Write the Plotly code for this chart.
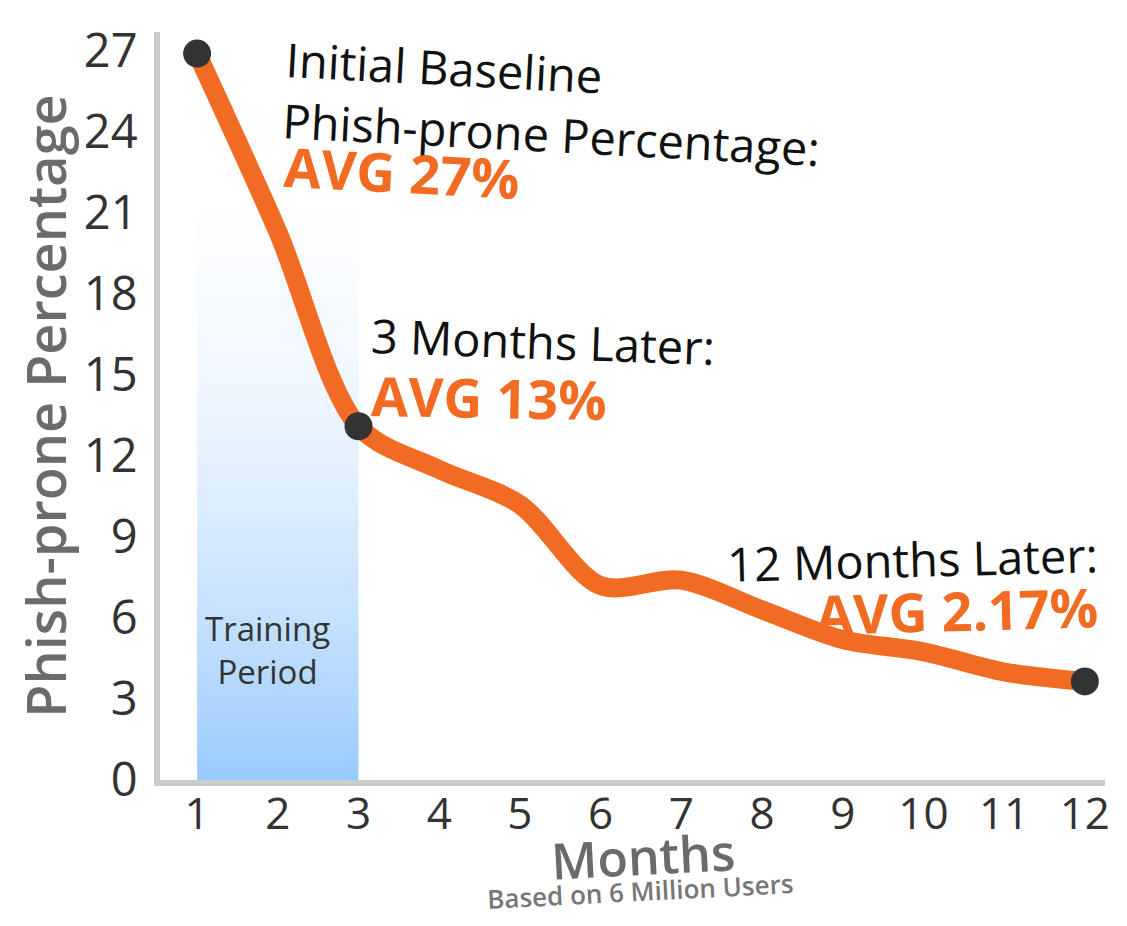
import plotly.graph_objects as go

# ---- data ----
months = [1, 2, 3, 4, 5, 6, 7, 8, 9, 10, 11, 12]
phish_pct = [26.9, 20.3, 13.1, 11.5, 10.2, 7.2, 7.4, 6.3, 5.2, 4.75, 4.0, 3.65]
milestone_months = [1, 3, 12]
y_ticks = [0, 3, 6, 9, 12, 15, 18, 21, 24, 27]
x_ticks = months
training_start, training_end = 1, 3
training_top = 21

ORANGE = "#F26B22"
DARK = "#333333"
GRAY = "#cccccc"
FONT = "Open Sans"

fig = go.Figure()

# training period shaded band (vertical gradient)
fig.add_trace(go.Scatter(
    x=[training_start, training_end, training_end, training_start, training_start],
    y=[0, 0, training_top, training_top, 0],
    mode="lines", line=dict(width=0), fill="toself",
    fillgradient=dict(type="vertical",
                      colorscale=[[0, "#94c8fd"], [1, "rgba(240,247,255,0.15)"]],
                      start=0, stop=training_top),
    hoverinfo="skip", showlegend=False,
))

# main curve
fig.add_trace(go.Scatter(
    x=months, y=phish_pct, mode="lines",
    line=dict(color=ORANGE, width=19, shape="spline", smoothing=0.9),
    showlegend=False,
))

# milestone dots
mi = [months.index(m) for m in milestone_months]
fig.add_trace(go.Scatter(
    x=[months[i] for i in mi], y=[phish_pct[i] for i in mi], mode="markers",
    marker=dict(color=DARK, size=28), showlegend=False,
))

black = dict(family=FONT, size=47, color="#111111", weight=500)
orange_f = dict(family=FONT, size=54, color=ORANGE, weight="bold")

ann = [
    dict(x=2.02, y=27.5, yshift=12, text="Initial Baseline<br>Phish-prone Percentage:", font=black,
         xanchor="left", yanchor="top", align="left", textangle=3),
    dict(x=2.03, y=22.5, text="AVG 27%", font=orange_f, xanchor="left", yanchor="middle", textangle=3),
    dict(x=3.12, y=16.25, text="3 Months Later:", font=black, xanchor="left", yanchor="middle", textangle=2),
    dict(x=3.12, y=14.18, text="AVG 13%", font=orange_f, xanchor="left", yanchor="middle", textangle=1),
    dict(x=12.2, y=8.2, text="12 Months Later:", font=black, xanchor="right", yanchor="middle", textangle=-1.5),
    dict(x=12.2, y=6.3, text="AVG 2.17%", font=orange_f, xanchor="right", yanchor="middle", textangle=-1.5),
    dict(x=1.87, y=4.8, text="Training<br>Period", font=dict(family=FONT, size=33, color=DARK),
         xanchor="center", yanchor="middle", align="center"),
]
for a in ann:
    a.update(xref="x", yref="y", showarrow=False)
ann += [
    dict(x=0.511, y=-0.101, xref="paper", yref="paper", showarrow=False, text="Months",
         font=dict(family=FONT, size=50, color="#6b6b6b", weight=600),
         xanchor="center", yanchor="middle", textangle=-3),
    dict(x=0.508, y=-0.148, xref="paper", yref="paper", showarrow=False, text="Based on 6 Million Users",
         font=dict(family=FONT, size=26, color="#777777", weight=600),
         xanchor="center", yanchor="middle", textangle=-3),
]
fig.update_layout(annotations=ann)

fig.update_layout(
    width=1127, height=926,
    margin=dict(l=152, r=30, t=10, b=154),
    paper_bgcolor="white", plot_bgcolor="white",
    font=dict(family=FONT, color=DARK),
    showlegend=False,
)
fig.update_xaxes(
    range=[0.54, 12.25], tickvals=x_ticks, ticktext=[str(v) for v in x_ticks],
    showgrid=False, zeroline=False, showline=True, linecolor=GRAY, linewidth=6,
    tickfont=dict(family=FONT, size=44, color=DARK), ticks="", ticklabelstandoff=-10,
    ticklabeloverflow="allow",
)
fig.update_yaxes(
    range=[0, 27.7], tickvals=y_ticks, ticktext=[str(v) for v in y_ticks],
    showgrid=False, zeroline=False, showline=True, linecolor=GRAY, linewidth=6,
    tickfont=dict(family=FONT, size=47, color=DARK), ticks="", ticklabelstandoff=7,
    ticklabeloverflow="allow",
    title=dict(text="Phish-prone Percentage", font=dict(family=FONT, size=54, color="#6b6b6b", weight=600),
               standoff=15),
)

fig.write_html("out.html")
